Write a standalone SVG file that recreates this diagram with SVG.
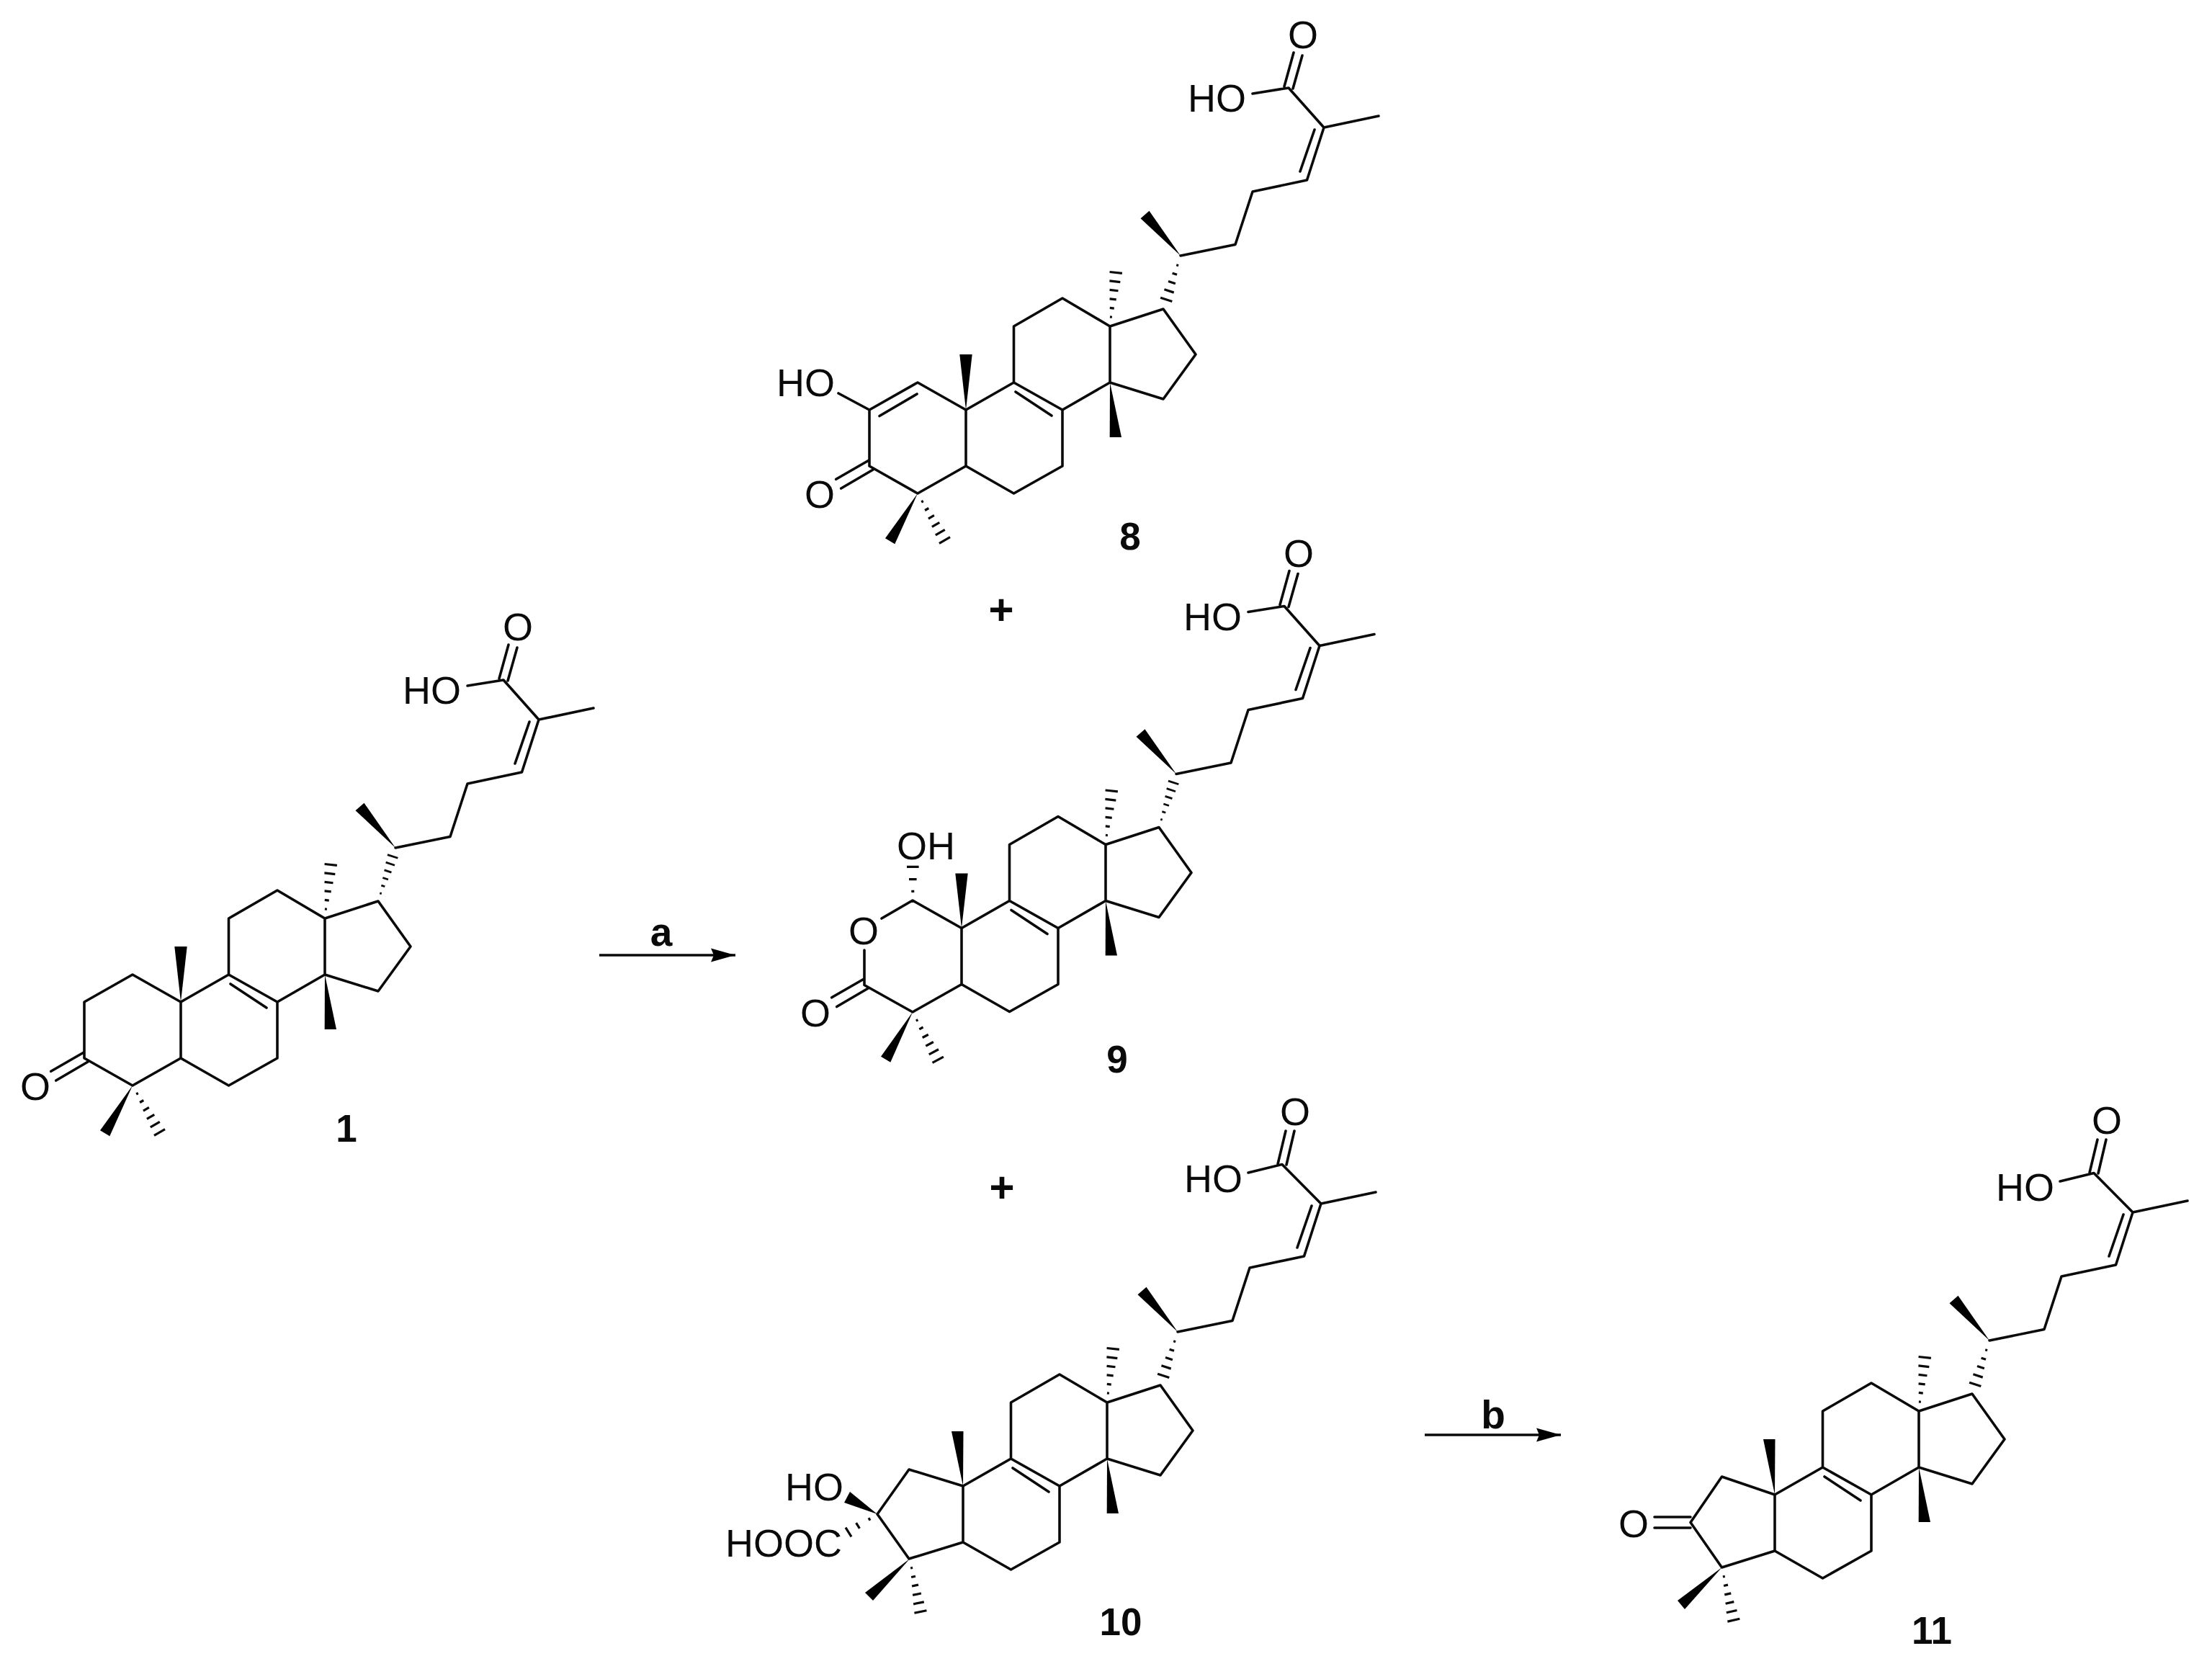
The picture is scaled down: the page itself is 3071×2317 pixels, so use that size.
<svg xmlns="http://www.w3.org/2000/svg" width="3071" height="2317" viewBox="0 0 3071 2317">
<style>
.b{fill:none;stroke:#0a0a0a;stroke-width:3.6;stroke-linejoin:round;stroke-linecap:round}
.h{fill:none;stroke:#0a0a0a;stroke-width:3.2}
.w{fill:#000;stroke:none}
.t{font-family:"Liberation Sans",Arial,sans-serif;font-size:54px;fill:#0a0a0a}
.m{text-anchor:middle}
.l{font-family:"Liberation Sans",Arial,sans-serif;font-weight:bold;font-size:53px;fill:#0a0a0a;text-anchor:middle}
.a{fill:none;stroke:#0a0a0a;stroke-width:3.6;marker-end:url(#head)}
</style>
<defs>
<marker id="head" markerUnits="userSpaceOnUse" markerWidth="36" markerHeight="20" refX="34" refY="10" orient="auto"><path d="M0 .5L34 10L0 19.500L4 10Z" fill="#000"/></marker>
<g id="hash" class="h">
<path d="M13 -1.500V1.500M25.400 -3V3M37.800 -4.600V4.600M50.200 -6V6M62.600 -7.500V7.500M75 -8.700V8.700"/>
</g>
<g id="hash5" class="h">
<path d="M14 -1.500V1.500M26.500 -3.400V3.400M39 -5.200V5.200M51.500 -7V7M64 -8.500V8.500"/>
</g>
<g id="core">
<path class="b" d="M0 0V78L66.500 116L134 78V0L200 -38V-116L134 -155L66.500 -116V-38L0 0M66.500 -38L134 0M69 -25L119 8M200 -38L274 -15L319 -77L274 -140L200 -116M298 -214L374 -229.500L398 -303L473.500 -319L497 -392L573 -408M484 -389L464 -331"/>
<polygon class="w" points="200,-38 199.700,38 216,38"/>
<polygon class="w" points="298,-214 242.500,-265.800 254.500,-276.200"/>
<use href="#hash" transform="translate(200,-116) rotate(-83.700)"/>
</g>
<path id="acid-a" class="b" d="M497 -392L448 -447L398 -439M442 -449L455 -496M454 -446L467 -492"/>
<path id="acid-b" class="b" d="M497 -392L443 -446.500L396 -435M437 -447L448 -493M449 -446L460 -493"/>
</defs>
<rect width="3071" height="2317" fill="#fff"/>
<g id="connectors">
<line class="a" x1="832" y1="1326" x2="1021" y2="1326"/>
<line class="a" x1="1978" y1="1992" x2="2167" y2="1992"/>
</g>
<g id="arrow-labels">
<text class="l" x="918" y="1313" style="font-size:55px">a</text>
<text class="l" x="2073" y="1983" style="font-size:55px">b</text>
</g>
<g id="plus-1"><text class="l" x="1390" y="867" style="font-size:60px">+</text></g>
<g id="plus-2"><text class="l" x="1391" y="1669" style="font-size:60px">+</text></g>
<g id="compound-1" transform="translate(251,1391)">
<use href="#core"/>
<use href="#acid-a"/>
<path class="b" d="M0 78L-67 116L-134 78V0L-67 -38L0 0M-180.300 96.300L-136 70.700M-173.300 109L-129.300 83.300"/>
<polygon class="w" points="0,0 -8.700,-77 8.700,-77"/>
<polygon class="w" points="-67,116 -112,178.300 -98.700,186.300"/>
<use href="#hash" transform="translate(-67,116) rotate(60)"/>
<use href="#hash" transform="translate(274,-140) rotate(-72) scale(.87)"/>
<text class="t" x="308" y="-414">HO</text>
<text class="t m" x="468" y="-502">O</text>
<text class="t m" x="-202" y="135.600">O</text>
</g>
<text class="l" x="481" y="1585" id="label-1">1</text>
<g id="compound-8" transform="translate(1341,569)">
<use href="#core"/>
<use href="#acid-a"/>
<path class="b" d="M0 78L-67 116L-134 78V0L-67 -38L0 0M-120 8.500L-68 -22M-134 0L-177 -23M-180.300 96.300L-136 70.700M-173.300 109L-129.300 83.300"/>
<polygon class="w" points="0,0 -8.700,-77 8.700,-77"/>
<polygon class="w" points="-67,116 -112,178.300 -98.700,186.300"/>
<use href="#hash" transform="translate(-67,116) rotate(60)"/>
<use href="#hash5" transform="translate(298,-214) rotate(108)"/>
<text class="t" x="308" y="-414">HO</text>
<text class="t m" x="468" y="-502">O</text>
<text class="t" x="-263" y="-19">HO</text>
<text class="t m" x="-203" y="135.600">O</text>
</g>
<text class="l" x="1569" y="763" id="label-8">8</text>
<g id="compound-9" transform="translate(1335,1288.500)">
<use href="#core"/>
<use href="#acid-a"/>
<path class="b" d="M0 78L-68 116.500L-135 79V30.600M-111 -13.500L-68 -38.500L0 0M-180.300 96.300L-136 70.700M-173.300 109L-129.300 83.300"/>
<polygon class="w" points="0,0 -8.700,-76 8.700,-76"/>
<polygon class="w" points="-68,116.500 -112,178.300 -98.700,186.300"/>
<use href="#hash" transform="translate(-68,116.500) rotate(62)"/>
<use href="#hash" transform="translate(274,-140) rotate(-72) scale(.87)"/>
<path class="h" d="M-69.700 -51.200H-65.700M-73 -67.800H-62.400M-76 -85.200H-59.400"/>
<text class="t" x="308" y="-414">HO</text>
<text class="t m" x="468" y="-502">O</text>
<text class="t" x="-90" y="-95.500">OH</text>
<text class="t m" x="-136" y="22">O</text>
<text class="t m" x="-203" y="136">O</text>
</g>
<text class="l" x="1551" y="1489" id="label-9">9</text>
<g id="compound-10" transform="translate(1337,2063)">
<use href="#core"/>
<use href="#acid-b"/>
<path class="b" d="M0 78L-75 101L-119 39L-75 -23L0 0"/>
<polygon class="w" points="0,0 -16,-76 .5,-76"/>
<polygon class="w" points="-119,39 -157,8 -165,23"/>
<path class="h" d="M-131 44.300L-129 47.700M-148.400 51.200L-143.600 58.800M-163 57.600L-155 70.400"/>
<polygon class="w" points="-74,101 -136,148 -125,159"/>
<use href="#hash" transform="translate(-74,101) rotate(78.500)"/>
<use href="#hash5" transform="translate(298,-214) rotate(108)"/>
<text class="t" x="307" y="-408">HO</text>
<text class="t m" x="461" y="-501.400">O</text>
<text class="t" x="-247" y="20">HO</text>
<text class="t" x="-330" y="98">HOOC</text>
</g>
<text class="l" x="1556" y="2270" id="label-10">10</text>
<g id="compound-11" transform="translate(2464,2075)">
<use href="#core"/>
<use href="#acid-b"/>
<path class="b" d="M0 78L-73.500 101L-117 38.500L-73.500 -25L0 0M-167 31H-117M-167 46H-117"/>
<polygon class="w" points="0,0 -16,-77 .5,-77"/>
<polygon class="w" points="-73.500,101 -135,147 -125,159"/>
<use href="#hash" transform="translate(-73.500,101) rotate(77.400)"/>
<use href="#hash5" transform="translate(298,-214) rotate(108)"/>
<text class="t" x="307" y="-408">HO</text>
<text class="t m" x="461" y="-501.400">O</text>
<text class="t m" x="-196" y="58.600">O</text>
</g>
<text class="l" x="2682" y="2282" id="label-11">11</text>
</svg>
